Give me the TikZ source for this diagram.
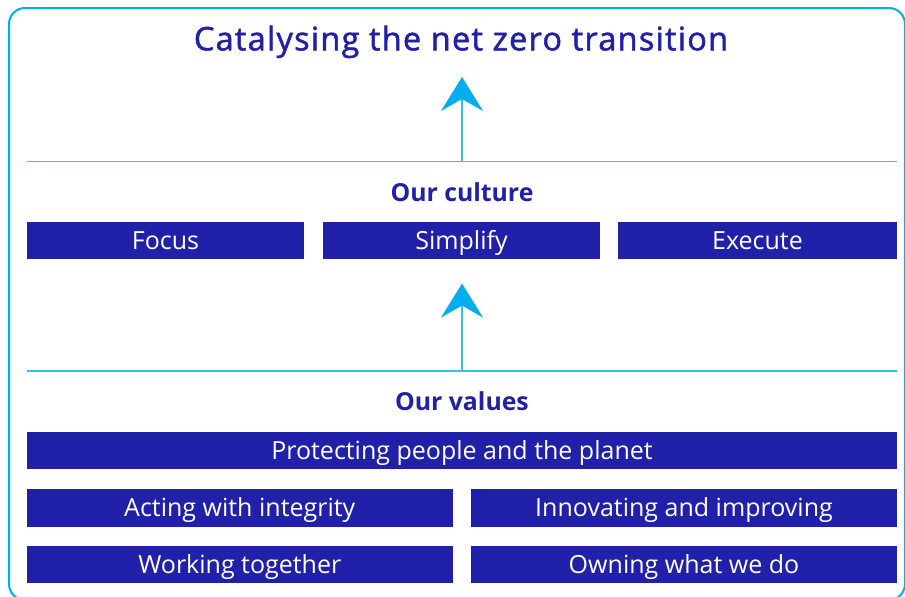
\documentclass[tikz,border=0pt]{standalone}
\usepackage{fontspec}
\setmainfont{Open Sans}
\newfontfamily\titlefont[FakeBold=1.6, LetterSpace=4]{Open Sans}
\usetikzlibrary{arrows.meta}
\definecolor{navy}{RGB}{32,33,168}
\definecolor{sky}{RGB}{0,174,239}
\definecolor{skyline}{RGB}{60,190,235}

\tikzset{
  valuebox/.style={fill=navy, text=white, inner sep=0pt, minimum height=37.5pt,
    text height=18pt, text depth=0pt, font=\fontsize{25}{25}\selectfont},
  heading/.style={text=navy, inner sep=0pt, text depth=0pt, font=\bfseries\fontsize{24.8}{24.8}\selectfont},
  rule/.style={draw=skyline, line width=1.5pt},
  uparrow/.style={draw=skyline, line width=1.5pt,
    -{Stealth[length=34pt, width=42pt, inset=12pt, fill=sky, color=sky]}}
}

\begin{document}
\begin{tikzpicture}[x=1pt, y=-1pt]
    \useasboundingbox (0,0) rectangle (905,597);
    % Frame
    \draw[sky, line width=2pt, rounded corners=16pt] (9,8) rectangle (905,600);
    % Title
    \node[text=navy, inner sep=0pt, text height=23pt, text depth=0pt,
      font=\titlefont\fontsize{32.4}{32.4}\selectfont] (title) at (461,38.8) {Catalysing the net zero transition};
    % Culture rule and arrow
    \coordinate (cl) at (27,161.5);
    \coordinate (cr) at (897,161.5);
    \coordinate (c1) at (462,161.5);
    \coordinate (t1) at (462,77);
    \draw[rule] (cl) -- (cr);
    \draw[uparrow] (c1) -- (t1);
    \node[heading, text height=18.5pt] (culture) at (462,192) {Our culture};
    \node[valuebox, minimum width=277pt] (focus) at (165.5,240.5) {Focus};
    \node[valuebox, minimum width=277pt] (simplify) at (461.5,240.5) {Simplify};
    \node[valuebox, minimum width=279pt] (execute) at (757.5,240.5) {Execute};
    % Values rule and arrow
    \coordinate (vl) at (27,371);
    \coordinate (vr) at (897,371);
    \coordinate (v1) at (462,371);
    \coordinate (t2) at (462,283.5);
    \draw[rule] (vl) -- (vr);
    \draw[uparrow] (v1) -- (t2);
    \node[heading, text height=18.5pt] (values) at (462,401) {Our values};
    \node[valuebox, minimum width=870pt] (protect) at (462,450.7) {Protecting people and the planet};
    \node[valuebox, minimum width=425.5pt] (integrity) at (239.75,507.8) {Acting with integrity};
    \node[valuebox, minimum width=426pt] (innovate) at (684,507.8) {Innovating and improving};
    \node[valuebox, minimum width=425.5pt] (together) at (239.75,564.7) {Working together};
    \node[valuebox, minimum width=426pt] (owning) at (684,564.7) {Owning what we do};
\end{tikzpicture}
\end{document}
